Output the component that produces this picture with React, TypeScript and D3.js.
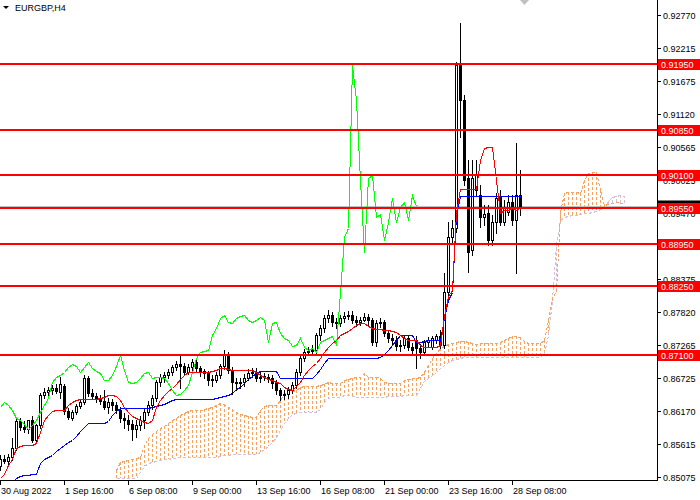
import { useEffect, useRef } from 'react';
import * as d3 from 'd3';

// EURGBP H4 candles, one entry per bar (30 Aug 2022 onwards)
const opens = [
  0.8525, 0.85367, 0.85334, 0.854, 0.8555, 0.86, 0.859, 0.85867, 0.86017, 0.85684,
  0.85934, 0.86434, 0.86484, 0.86517, 0.8655, 0.86484, 0.86584, 0.86167, 0.8605, 0.8615,
  0.8625, 0.86317, 0.86717, 0.86467, 0.86417, 0.86367, 0.86334, 0.86234, 0.86317, 0.86267,
  0.86184, 0.8605, 0.86017, 0.8595, 0.85867, 0.85934, 0.86017, 0.8615, 0.86267, 0.86384,
  0.8665, 0.86734, 0.86767, 0.86817, 0.869, 0.8695, 0.86917, 0.86817, 0.869, 0.86984,
  0.86884, 0.86834, 0.868, 0.867, 0.86684, 0.86767, 0.86917, 0.871, 0.8685, 0.8665,
  0.86634, 0.8665, 0.86717, 0.868, 0.86817, 0.86717, 0.8675, 0.86734, 0.86717, 0.86634,
  0.86517, 0.86434, 0.8645, 0.86517, 0.866, 0.86817, 0.8705, 0.8715, 0.87167, 0.87184,
  0.87434, 0.8755, 0.87717, 0.87767, 0.8765, 0.87634, 0.87717, 0.8775, 0.87767, 0.87684,
  0.8765, 0.87684, 0.87734, 0.87684, 0.87317, 0.87634, 0.8765, 0.87467, 0.87384, 0.8735,
  0.8725, 0.87267, 0.87384, 0.87234, 0.8735, 0.87217, 0.8715, 0.87317, 0.87234, 0.8735,
  0.87417, 0.87267, 0.8815, 0.89067, 0.89217, 0.91934, 0.9135, 0.9005, 0.8885, 0.8985,
  0.89767, 0.894, 0.89467, 0.89017, 0.89317, 0.89734, 0.89317, 0.89484, 0.8965, 0.8935,
  0.89767,
];
const highs = [
  0.85434, 0.85434, 0.8545, 0.85717, 0.8605, 0.8605, 0.86, 0.86, 0.86084, 0.8595,
  0.86467, 0.8655, 0.86567, 0.866, 0.86617, 0.86734, 0.86617, 0.86217, 0.86184, 0.86284,
  0.8635, 0.86767, 0.8675, 0.86534, 0.86467, 0.86434, 0.86517, 0.86384, 0.86367, 0.86317,
  0.86234, 0.86134, 0.861, 0.86017, 0.86017, 0.86084, 0.862, 0.86334, 0.86434, 0.86684,
  0.86784, 0.86817, 0.86867, 0.86934, 0.87, 0.87084, 0.86967, 0.8695, 0.87034, 0.87017,
  0.86917, 0.86867, 0.86834, 0.86767, 0.86817, 0.8695, 0.87184, 0.8715, 0.869, 0.86717,
  0.86717, 0.86784, 0.86867, 0.86884, 0.86884, 0.86817, 0.868, 0.86784, 0.86767, 0.86684,
  0.8655, 0.86517, 0.86567, 0.8665, 0.86867, 0.871, 0.872, 0.87234, 0.87267, 0.87467,
  0.876, 0.87767, 0.8785, 0.87817, 0.87717, 0.87767, 0.87817, 0.87834, 0.87834, 0.8775,
  0.87734, 0.878, 0.87784, 0.87717, 0.87684, 0.87717, 0.87684, 0.87517, 0.8745, 0.87417,
  0.8735, 0.87434, 0.87417, 0.873, 0.87417, 0.87284, 0.8735, 0.874, 0.87417, 0.8745,
  0.87517, 0.88467, 0.89317, 0.8935, 0.91984, 0.92634, 0.91434, 0.9035, 0.9035, 0.9035,
  0.89934, 0.896, 0.896, 0.89434, 0.898, 0.8985, 0.89684, 0.89767, 0.89767, 0.90634,
  0.90184,
];
const lows = [
  0.85184, 0.853, 0.85284, 0.8535, 0.85517, 0.8585, 0.85817, 0.858, 0.8565, 0.85634,
  0.85884, 0.86384, 0.86417, 0.8645, 0.86467, 0.86384, 0.86117, 0.86034, 0.86017, 0.86117,
  0.86217, 0.86284, 0.86417, 0.86367, 0.86317, 0.86284, 0.862, 0.86134, 0.86184, 0.86134,
  0.85984, 0.85884, 0.8585, 0.85684, 0.85734, 0.8585, 0.85884, 0.861, 0.862, 0.86334,
  0.86584, 0.8665, 0.86717, 0.86767, 0.8685, 0.8655, 0.86767, 0.86784, 0.8685, 0.86817,
  0.8675, 0.86717, 0.866, 0.86584, 0.8665, 0.86717, 0.86867, 0.868, 0.8645, 0.86517,
  0.8655, 0.86584, 0.86684, 0.86734, 0.86667, 0.8665, 0.86684, 0.8665, 0.8655, 0.8645,
  0.8635, 0.86367, 0.86384, 0.86467, 0.8655, 0.86767, 0.87, 0.871, 0.87117, 0.87134,
  0.8735, 0.87484, 0.8765, 0.87584, 0.8755, 0.87584, 0.8765, 0.877, 0.87634, 0.87584,
  0.876, 0.87667, 0.87584, 0.87267, 0.8725, 0.87567, 0.87417, 0.87317, 0.87267, 0.87184,
  0.87167, 0.87217, 0.87184, 0.87117, 0.86884, 0.8705, 0.871, 0.87234, 0.872, 0.873,
  0.87217, 0.87217, 0.881, 0.88984, 0.8915, 0.90734, 0.89934, 0.88484, 0.88767, 0.89767,
  0.89234, 0.89267, 0.88934, 0.88934, 0.89134, 0.89267, 0.89267, 0.89434, 0.89267, 0.88467,
  0.89434,
];
const closes = [
  0.85367, 0.85334, 0.854, 0.8555, 0.86, 0.859, 0.85867, 0.86017, 0.85684, 0.85934,
  0.86434, 0.86484, 0.86517, 0.8655, 0.865, 0.86617, 0.86167, 0.86067, 0.8615, 0.8625,
  0.86317, 0.86717, 0.86467, 0.86417, 0.86367, 0.86334, 0.86234, 0.86317, 0.86267, 0.86184,
  0.8605, 0.86017, 0.8595, 0.85867, 0.85934, 0.86017, 0.8615, 0.86267, 0.86384, 0.8665,
  0.86734, 0.86767, 0.86817, 0.869, 0.8695, 0.86917, 0.86817, 0.869, 0.86984, 0.86884,
  0.86834, 0.868, 0.86684, 0.86684, 0.86767, 0.86917, 0.871, 0.8685, 0.8665, 0.86634,
  0.8665, 0.86717, 0.868, 0.86817, 0.86717, 0.86734, 0.86734, 0.86717, 0.86634, 0.86517,
  0.86434, 0.8645, 0.86517, 0.866, 0.86817, 0.8705, 0.8715, 0.87167, 0.87184, 0.87434,
  0.8755, 0.87717, 0.87767, 0.8765, 0.87634, 0.87717, 0.8775, 0.87767, 0.87684, 0.8765,
  0.87684, 0.87734, 0.87684, 0.87317, 0.87634, 0.8765, 0.87467, 0.87384, 0.8735, 0.8725,
  0.87267, 0.87384, 0.87234, 0.87184, 0.87217, 0.8715, 0.87317, 0.8735, 0.87384, 0.87417,
  0.87267, 0.8815, 0.89067, 0.89217, 0.91934, 0.9135, 0.90017, 0.88817, 0.9005, 0.901,
  0.894, 0.8945, 0.89017, 0.89317, 0.89717, 0.89317, 0.89567, 0.8965, 0.8935, 0.89767,
  0.89584,
];

// Ichimoku lines
const tenkan = [
  0.8505, 0.85117, 0.85267, 0.85367, 0.8555, 0.85584, 0.856, 0.856, 0.856, 0.85634,
  0.85817, 0.86017, 0.861, 0.86167, 0.86184, 0.86184, 0.86184, 0.86267, 0.86317, 0.8635,
  0.86367, 0.86367, 0.86367, 0.86367, 0.86367, 0.86384, 0.864, 0.86434, 0.86434, 0.86417,
  0.8635, 0.86234, 0.8615, 0.86084, 0.8605, 0.86017, 0.85984, 0.85967, 0.86017, 0.86234,
  0.8635, 0.86434, 0.865, 0.8655, 0.86617, 0.867, 0.86767, 0.86817, 0.86817, 0.86817,
  0.86817, 0.86817, 0.86817, 0.86834, 0.8685, 0.86884, 0.86884, 0.86867, 0.8685, 0.8685,
  0.8685, 0.8685, 0.8685, 0.8685, 0.86817, 0.86767, 0.86734, 0.867, 0.86684, 0.8665,
  0.86634, 0.86567, 0.86534, 0.86517, 0.86584, 0.8665, 0.86767, 0.8685, 0.86917, 0.86967,
  0.8705, 0.8715, 0.87234, 0.873, 0.8735, 0.87434, 0.87467, 0.875, 0.8755, 0.876,
  0.87634, 0.87634, 0.87584, 0.8755, 0.87534, 0.87534, 0.87517, 0.87517, 0.875, 0.87484,
  0.87434, 0.87384, 0.8735, 0.8735, 0.8735, 0.87267, 0.87234, 0.87234, 0.87234, 0.87234,
  0.87267, 0.8775, 0.88084, 0.88184, 0.89484, 0.89867, 0.89867, 0.89867, 0.89867, 0.89867,
  0.9035, 0.9055, 0.90567, 0.90567, 0.90017, 0.89467, 0.89517, 0.89517, 0.8955, 0.89517,
  0.89567,
];
const kijun = [
  0.84817, 0.84884, 0.84934, 0.84984, 0.8505, 0.85084, 0.851, 0.851, 0.85117, 0.85117,
  0.853, 0.85367, 0.854, 0.85434, 0.855, 0.8555, 0.856, 0.8565, 0.85684, 0.8575,
  0.85834, 0.859, 0.85967, 0.85967, 0.85967, 0.85967, 0.85967, 0.86, 0.861, 0.86167,
  0.86217, 0.86217, 0.86217, 0.86217, 0.86217, 0.86217, 0.86217, 0.86217, 0.86234, 0.8625,
  0.86267, 0.86284, 0.86317, 0.8635, 0.86367, 0.86367, 0.86367, 0.86367, 0.86367, 0.86367,
  0.86367, 0.86367, 0.86367, 0.86367, 0.86384, 0.864, 0.86417, 0.86434, 0.86467, 0.86534,
  0.86567, 0.86634, 0.867, 0.8675, 0.868, 0.86834, 0.86834, 0.86834, 0.86834, 0.86834,
  0.86717, 0.86717, 0.86717, 0.86717, 0.86717, 0.86717, 0.86717, 0.86717, 0.86717, 0.86784,
  0.86867, 0.86967, 0.8705, 0.8705, 0.8705, 0.8705, 0.8705, 0.8705, 0.8705, 0.8705,
  0.8705, 0.8705, 0.8705, 0.8705, 0.8705, 0.87067, 0.87117, 0.87184, 0.87267, 0.8735,
  0.87434, 0.87434, 0.87434, 0.87434, 0.87317, 0.87317, 0.87334, 0.8735, 0.8735, 0.8735,
  0.8735, 0.87717, 0.88017, 0.8815, 0.89434, 0.8975, 0.8975, 0.8975, 0.8975, 0.8975,
  0.8975, 0.8975, 0.8975, 0.8975, 0.8975, 0.8975, 0.8975, 0.8975, 0.8975, 0.8975,
  0.8975,
];
// cloud spans, first value sits on bar cloudStart, runs 26 bars past the last candle
const cloudStart = 29;
const spanA = [
  0.85184, 0.85317, 0.85334, 0.8535, 0.85367, 0.85384, 0.854, 0.856, 0.85717, 0.85784,
  0.85834, 0.85884, 0.85917, 0.85967, 0.86017, 0.8605, 0.861, 0.86134, 0.86167, 0.86184,
  0.86184, 0.86184, 0.862, 0.86217, 0.86234, 0.86267, 0.863, 0.86284, 0.86234, 0.862,
  0.8615, 0.86117, 0.861, 0.86084, 0.86067, 0.86067, 0.86184, 0.8625, 0.86267, 0.86267,
  0.86267, 0.8635, 0.86467, 0.86484, 0.865, 0.86517, 0.86567, 0.86584, 0.86584, 0.86584,
  0.86584, 0.866, 0.86617, 0.8665, 0.86634, 0.86634, 0.86634, 0.86684, 0.867, 0.86717,
  0.86734, 0.86734, 0.868, 0.86734, 0.86734, 0.86734, 0.86717, 0.8665, 0.86634, 0.86634,
  0.86634, 0.86634, 0.86684, 0.867, 0.86717, 0.86717, 0.86734, 0.86817, 0.86934, 0.8705,
  0.87134, 0.87217, 0.8725, 0.87284, 0.873, 0.87317, 0.87334, 0.87334, 0.87317, 0.873,
  0.87284, 0.873, 0.873, 0.873, 0.873, 0.873, 0.87317, 0.8735, 0.87384, 0.87417,
  0.87417, 0.874, 0.87334, 0.873, 0.873, 0.873, 0.873, 0.8735, 0.87684, 0.8805,
  0.88167, 0.89484, 0.898, 0.89817, 0.89817, 0.89817, 0.898, 0.90017, 0.90134, 0.9015,
  0.9015, 0.8985, 0.896, 0.89617, 0.89634, 0.8965, 0.89634, 0.89634,
];
const spanB = [
  0.8505, 0.8505, 0.8505, 0.8505, 0.8505, 0.8505, 0.8515, 0.8525, 0.853, 0.85317,
  0.85334, 0.8535, 0.85367, 0.85367, 0.85384, 0.85384, 0.854, 0.854, 0.854, 0.854,
  0.854, 0.854, 0.854, 0.854, 0.854, 0.854, 0.85417, 0.85434, 0.85434, 0.8545,
  0.8545, 0.8545, 0.8545, 0.8545, 0.8545, 0.8545, 0.85484, 0.85534, 0.85584, 0.8565,
  0.85734, 0.8585, 0.85967, 0.8605, 0.86117, 0.86134, 0.8615, 0.8615, 0.8615, 0.8615,
  0.8615, 0.862, 0.86317, 0.86384, 0.864, 0.864, 0.864, 0.86434, 0.86434, 0.86417,
  0.864, 0.864, 0.864, 0.864, 0.864, 0.864, 0.864, 0.864, 0.86417, 0.86417,
  0.86417, 0.86417, 0.86434, 0.86434, 0.86434, 0.86434, 0.8655, 0.86667, 0.86717, 0.86767,
  0.86817, 0.86884, 0.86934, 0.86984, 0.87017, 0.87034, 0.8705, 0.87067, 0.87067, 0.87067,
  0.87067, 0.87067, 0.87067, 0.87067, 0.87067, 0.87067, 0.87067, 0.87067, 0.87067, 0.87067,
  0.87067, 0.87067, 0.87067, 0.87067, 0.87067, 0.87067, 0.87067, 0.87134, 0.87434, 0.88017,
  0.88934, 0.8935, 0.894, 0.89417, 0.89434, 0.89434, 0.8945, 0.89467, 0.89467, 0.89484,
  0.895, 0.89534, 0.89567, 0.89667, 0.89734, 0.8975, 0.89767, 0.8975,
];
const chikouShift = 26;

const priceTicks = [
  0.9277, 0.92215, 0.91675, 0.9112, 0.90565, 0.90025, 0.8947, 0.88915,
  0.88375, 0.8782, 0.87265, 0.86725, 0.8617, 0.85615, 0.85075,
];
const levels = [0.9195, 0.9085, 0.901, 0.8955, 0.8895, 0.8825, 0.871];
const dateLabels = [
  '30 Aug 2022', '1 Sep 16:00', '6 Sep 08:00', '9 Sep 00:00', '13 Sep 16:00',
  '16 Sep 08:00', '21 Sep 00:00', '23 Sep 16:00', '28 Sep 08:00',
];
const dateStep = 16;

export default function App() {
  const svgRef = useRef<SVGSVGElement>(null);

  useEffect(() => {
    if (!svgRef.current) return;
    const svg = d3.select(svgRef.current);
    svg.selectAll('*').remove();

    const width = 700;
    const height = 500;
    const plotW = 657;
    const plotH = 480;
    const font = '"Liberation Sans", Arial, sans-serif';
    const fmt = d3.format('.5f');

    const x = d3.scaleLinear().domain([0, plotW / 4]).range([0, plotW]);
    const y = d3.scaleLinear().domain([0.85017, 0.93017]).range([plotH, 0]);
    const px = (i: number) => Math.round(x(i));
    const py = (v: number) => Math.round(y(v));

    svg.append('rect').attr('width', width).attr('height', height).attr('fill', '#ffffff');

    svg.append('defs').append('clipPath').attr('id', 'plotClip')
      .append('rect').attr('width', plotW).attr('height', plotH);
    const g = svg.append('g').attr('clip-path', 'url(#plotClip)').attr('shape-rendering', 'crispEdges');

    // bid line
    const bid = closes[closes.length - 1];
    g.append('line')
      .attr('x1', 0).attr('x2', plotW)
      .attr('y1', py(bid) + 0.5).attr('y2', py(bid) + 0.5)
      .attr('stroke', '#c0c0c0');

    // kumo
    const cloud = spanA.map((a, k) => ({ i: k + cloudStart, a, b: spanB[k] }));
    g.selectAll('.kumo')
      .data(cloud)
      .join('line')
      .attr('class', 'kumo')
      .attr('x1', d => px(d.i) + 0.5)
      .attr('x2', d => px(d.i) + 0.5)
      .attr('y1', d => py(d.a))
      .attr('y2', d => py(d.b))
      .attr('stroke', d => (d.a >= d.b ? '#f4a460' : '#d8bfd8'))
      .attr('stroke-dasharray', '3,2');

    const spanLine = (key: 'a' | 'b') =>
      d3.line<{ i: number; a: number; b: number }>()
        .x(d => px(d.i) + 0.5)
        .y(d => py(d[key]) + 0.5);

    g.append('path').datum(cloud).attr('d', spanLine('b'))
      .attr('fill', 'none').attr('stroke', '#d8bfd8').attr('stroke-dasharray', '3,2');
    g.append('path').datum(cloud).attr('d', spanLine('a'))
      .attr('fill', 'none').attr('stroke', '#f4a460').attr('stroke-dasharray', '3,2');

    // candles
    const bars = closes.map((c, i) => ({ i, o: opens[i], h: highs[i], l: lows[i], c }));
    g.selectAll('.wick')
      .data(bars)
      .join('line')
      .attr('class', 'wick')
      .attr('x1', d => px(d.i) + 0.5)
      .attr('x2', d => px(d.i) + 0.5)
      .attr('y1', d => py(d.h))
      .attr('y2', d => py(d.l) + 1)
      .attr('stroke', '#000000');

    g.selectAll('.body')
      .data(bars)
      .join('rect')
      .attr('class', 'body')
      .attr('x', d => px(d.i) - 0.5)
      .attr('width', 2)
      .attr('y', d => py(Math.max(d.o, d.c)) + 0.5)
      .attr('height', d => Math.max(1, py(Math.min(d.o, d.c)) - py(Math.max(d.o, d.c))))
      .attr('fill', d => (d.c >= d.o ? '#ffffff' : '#000000'))
      .attr('stroke', '#000000');

    // tenkan, kijun, chikou
    const seriesLine = (offset: number) =>
      d3.line<number>()
        .x((_, i) => px(i - offset) + 0.5)
        .y(v => py(v) + 0.5);

    g.append('path').datum(closes.slice(chikouShift))
      .attr('d', seriesLine(0))
      .attr('fill', 'none').attr('stroke', '#00ff00');
    g.append('path').datum(kijun)
      .attr('d', seriesLine(0))
      .attr('fill', 'none').attr('stroke', '#0000ff');
    g.append('path').datum(tenkan)
      .attr('d', seriesLine(0))
      .attr('fill', 'none').attr('stroke', '#ff0000');

    // horizontal levels
    g.selectAll('.level')
      .data(levels)
      .join('line')
      .attr('class', 'level')
      .attr('x1', 0).attr('x2', plotW)
      .attr('y1', d => py(d)).attr('y2', d => py(d))
      .attr('stroke', '#ff0000')
      .attr('stroke-width', 2);

    // axes
    const axes = svg.append('g').attr('shape-rendering', 'crispEdges');
    axes.append('line')
      .attr('x1', plotW + 0.5).attr('x2', plotW + 0.5)
      .attr('y1', 0).attr('y2', plotH + 1)
      .attr('stroke', '#000000');
    axes.append('line')
      .attr('x1', 0).attr('x2', plotW + 1)
      .attr('y1', plotH + 0.5).attr('y2', plotH + 0.5)
      .attr('stroke', '#000000');

    axes.selectAll('.ptick')
      .data(priceTicks)
      .join('line')
      .attr('class', 'ptick')
      .attr('x1', plotW).attr('x2', plotW + 4)
      .attr('y1', d => py(d) + 0.5).attr('y2', d => py(d) + 0.5)
      .attr('stroke', '#000000');

    svg.selectAll('.plabel')
      .data(priceTicks)
      .join('text')
      .attr('class', 'plabel')
      .attr('x', plotW + 6)
      .attr('y', d => py(d) + 3.5)
      .attr('font-family', font)
      .attr('font-size', '9px')
      .attr('fill', '#000000')
      .text(d => fmt(d));

    axes.selectAll('.dtick')
      .data(dateLabels)
      .join('line')
      .attr('class', 'dtick')
      .attr('x1', (_, k) => px(k * dateStep) + 0.5)
      .attr('x2', (_, k) => px(k * dateStep) + 0.5)
      .attr('y1', plotH + 1).attr('y2', plotH + 5)
      .attr('stroke', '#000000');

    svg.selectAll('.dlabel')
      .data(dateLabels)
      .join('text')
      .attr('class', 'dlabel')
      .attr('x', (_, k) => px(k * dateStep) + 1)
      .attr('y', plotH + 14)
      .attr('font-family', font)
      .attr('font-size', '9px')
      .attr('fill', '#000000')
      .text(d => d);

    // bid tag, mostly hidden under the 0.89550 tag
    svg.append('rect')
      .attr('x', plotW + 1).attr('y', py(bid) - 5.5)
      .attr('width', width - plotW - 1).attr('height', 11)
      .attr('fill', '#000000');

    // level tags
    const tags = svg.selectAll('.tag').data(levels).join('g').attr('class', 'tag');
    tags.append('rect')
      .attr('x', plotW + 1)
      .attr('y', d => py(d) - 5)
      .attr('width', width - plotW - 1)
      .attr('height', 11)
      .attr('fill', '#ff0000');
    tags.append('text')
      .attr('x', plotW + 4)
      .attr('y', d => py(d) + 3.5)
      .attr('font-family', font)
      .attr('font-size', '9px')
      .attr('fill', '#ffffff')
      .text(d => fmt(d));

    // title
    svg.append('polygon').attr('points', '3,6 9,6 6,9').attr('fill', '#000000');
    svg.append('text')
      .attr('x', 15).attr('y', 11)
      .attr('font-family', font)
      .attr('font-size', '9px')
      .attr('fill', '#000000')
      .text('EURGBP,H4');

    // chart shift marker
    svg.append('polygon').attr('points', '520,0 529,0 524.5,5').attr('fill', '#c0c0c0');
  }, []);

  return (
    <svg
      ref={svgRef}
      width={700}
      height={500}
      style={{ position: 'absolute', left: 0, top: 0, display: 'block' }}
    />
  );
}
